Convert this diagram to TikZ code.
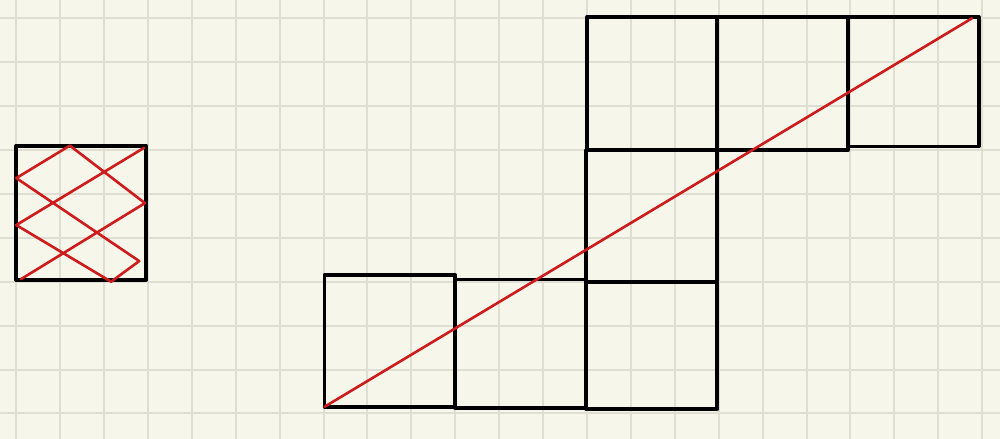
\documentclass[tikz,border=0pt]{standalone}
\usetikzlibrary{positioning}
\definecolor{paper}{RGB}{246,246,235}
\definecolor{gridline}{RGB}{222,222,210}
\definecolor{pen}{RGB}{205,28,28}

\begin{document}
\begin{tikzpicture}[x=1cm,y=1cm,line cap=round,line join=round,
  cell/.style={draw=black,line width=2.5pt},
  ray/.style={draw=pen,line width=1.7pt},
  rule/.style={draw=gridline,line width=1.3pt}]
  \fill[paper] (-0.371,-0.583) rectangle (22.408,9.417);
  \useasboundingbox (-0.371,-0.583) rectangle (22.408,9.417);
  \foreach \i in {0,...,22} \draw[rule] (\i,-0.583) -- (\i,9.417);
  \foreach \j in {0,...,9} \draw[rule] (-0.371,\j) -- (22.408,\j);

  % folded square
  \draw[cell] (0,3.04) rectangle (2.96,6.1);
  \coordinate (b0) at (0.11,3.06);
  \coordinate (b1) at (2.93,4.79);
  \coordinate (b2) at (1.22,6.1);
  \coordinate (b3) at (0,5.36);
  \coordinate (b4) at (2.80,3.47);
  \coordinate (b5) at (2.16,3.0);
  \coordinate (b6) at (0,4.29);
  \coordinate (b7) at (2.91,6.05);
  \draw[ray] (b0) -- (b1) -- (b2) -- (b3) -- (b4) -- (b5) -- (b6) -- (b7);

  % staircase of squares
  \draw[cell] (7.02,0.15) rectangle (10.0,3.15);
  \draw[cell] (10.0,0.12) rectangle (12.98,3.05);
  \draw[cell] (12.98,0.1) rectangle (15.97,3.0);
  \draw[cell] (12.98,3.0) rectangle (15.97,6.0);
  \draw[cell] (13.0,6.0) rectangle (15.97,9.03);
  \draw[cell] (15.97,6.0) rectangle (18.95,9.03);
  \draw[cell] (18.95,6.08) rectangle (21.92,9.03);
  \coordinate (start) at (7.02,0.15);
  \coordinate (end) at (21.77,9.0);
  \draw[ray] (start) -- (end);
\end{tikzpicture}
\end{document}
